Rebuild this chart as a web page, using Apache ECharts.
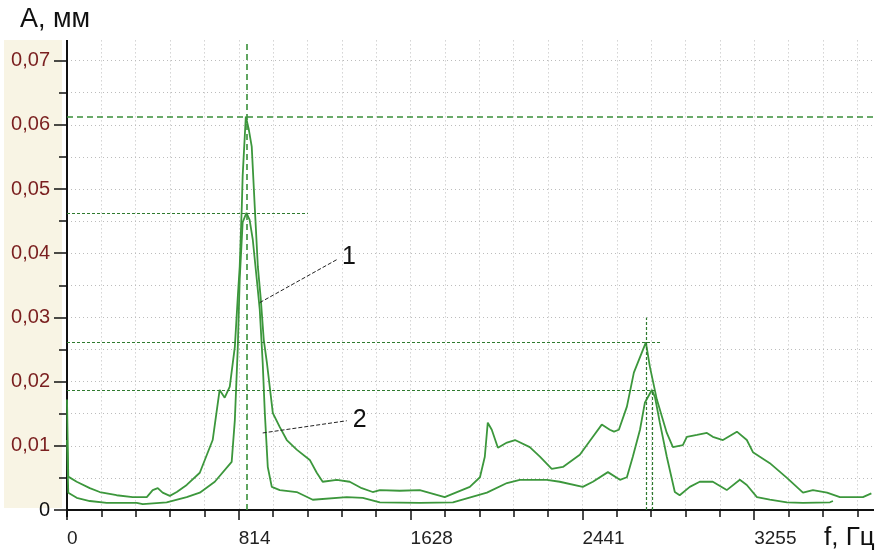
<!DOCTYPE html>
<html>
<head>
<meta charset="utf-8">
<title>A, мм / f, Гц</title>
<script src="https://cdn.jsdelivr.net/npm/echarts@6.0.0/dist/echarts.min.js"></script>
<style>
  html, body { margin: 0; padding: 0; background: #fff; }
  #chart { width: 882px; height: 550px; }
</style>
</head>
<body>
<div id="chart"></div>
<script type="text/javascript">
// curve 1 (upper spectrum)
var freq1 = [0, 6, 46, 108, 155, 235, 311, 378, 406, 430, 453, 487, 520, 567, 629, 690, 723, 747, 771, 795,
  809, 818, 828, 832, 847, 861, 875, 890, 904, 918, 932, 947, 975, 1008, 1041, 1088, 1150, 1183, 1211, 1278,
  1339, 1396, 1448, 1482, 1576, 1671, 1789, 1908, 1956, 1979, 1993, 2012, 2041, 2084, 2122, 2192, 2240, 2296,
  2349, 2429, 2491, 2533, 2571, 2591, 2614, 2652, 2685, 2742, 2761, 2794, 2841, 2870, 2917, 2936, 2984, 3031,
  3059, 3107, 3173, 3220, 3249, 3329, 3410, 3486, 3533, 3600, 3661, 3770, 3810];
var amp1 = [0.0172, 0.0052, 0.0044, 0.0034, 0.0028, 0.0023, 0.0020, 0.0020, 0.0031, 0.0034, 0.0027, 0.0022, 0.0028, 0.0039, 0.0058, 0.0109, 0.0187, 0.0175, 0.0192, 0.0254,
  0.0332, 0.0379, 0.0473, 0.0520, 0.0613, 0.0593, 0.0566, 0.0468, 0.0379, 0.0328, 0.0265, 0.0229, 0.0151, 0.0129, 0.0109, 0.0094, 0.0078, 0.0058, 0.0044, 0.0047,
  0.0044, 0.0034, 0.0028, 0.0031, 0.0030, 0.0031, 0.0020, 0.0036, 0.0051, 0.0083, 0.0136, 0.0125, 0.0097, 0.0105, 0.0109, 0.0098, 0.0083, 0.0064,
  0.0067, 0.0086, 0.0114, 0.0133, 0.0125, 0.0122, 0.0125, 0.0161, 0.0214, 0.0261, 0.0223, 0.0172, 0.0120, 0.0098, 0.0101, 0.0114, 0.0117, 0.0120,
  0.0114, 0.0109, 0.0122, 0.0109, 0.0090, 0.0073, 0.0050, 0.0027, 0.0031, 0.0027, 0.0020, 0.0020, 0.0026];

// curve 2 (lower spectrum)
var freq2 = [0, 6, 46, 108, 188, 330, 359, 472, 567, 629, 700, 780, 795, 809, 818, 832, 850, 865, 880, 899,
  913, 927, 937, 951, 970, 1008, 1088, 1164, 1325, 1401, 1482, 1671, 1828, 1989, 2084, 2145, 2273, 2334, 2443, 2491,
  2562, 2619, 2652, 2680, 2714, 2737, 2770, 2785, 2808, 2841, 2879, 2902, 2950, 2997, 3059, 3125, 3187, 3220, 3268,
  3329, 3410, 3486, 3614, 3628];
var amp2 = [0.0109, 0.0027, 0.0019, 0.0014, 0.0011, 0.0011, 0.0009, 0.0012, 0.0020, 0.0027, 0.0044, 0.0075, 0.0140, 0.0254, 0.0359, 0.0448, 0.0463, 0.0452, 0.0421, 0.0359,
  0.0312, 0.0229, 0.0151, 0.0067, 0.0036, 0.0031, 0.0028, 0.0016, 0.0020, 0.0019, 0.0012, 0.0011, 0.0012, 0.0027, 0.0042, 0.0047, 0.0047, 0.0044, 0.0036, 0.0044,
  0.0059, 0.0047, 0.0051, 0.0083, 0.0125, 0.0167, 0.0187, 0.0176, 0.0136, 0.0083, 0.0028, 0.0023, 0.0036, 0.0044, 0.0044, 0.0031, 0.0047, 0.0039, 0.0020,
  0.0016, 0.0012, 0.0011, 0.0012, 0.0014];

// peak markers: [freq, amp] of each peak
var peak1Main = [850, 0.0613];
var peak2Main = [850, 0.0463];
var peak1Hi = [2742, 0.0261];
var peak2Hi = [2770, 0.0187];

// leader lines for the "1" / "2" callouts: [from], [to]
var leader1 = [[913, 0.0323], [1278, 0.0390]];
var leader2 = [[927, 0.0120], [1325, 0.0139]];

var xStep = 813.75;      // labelled ticks: 814, 1628, 2441, 3255
var xMinor = 162.75;     // small ticks, 5 per step
var yStep = 0.01;
var yMinor = 0.005;
var xMax = 4068.75;
var yMax = 0.08;

function zip(a, b) {
  var out = [];
  for (var i = 0; i < a.length; i++) out.push([a[i], b[i]]);
  return out;
}

var green = '#3c973c';
var refBold = { color: '#3a8f3a', type: [6, 4], width: 1.6 };
var refFine = { color: '#2f7a2f', type: [3, 2], width: 1.2 };
var gridDots = { color: '#bcbcbc', type: [1, 3], width: 1 };
var tickStyle = { color: '#111', width: 1.5 };
var labelFont = "'Liberation Sans', Arial, sans-serif";

var chart = echarts.init(document.getElementById('chart'));
var option = {
  animation: false,
  backgroundColor: '#fff',
  grid: { left: 67, right: -44, top: -3.6, bottom: 40, containLabel: false, outerBoundsMode: 'none' },
  xAxis: [
    {   // minor ticks + dotted grid
      type: 'value', position: 'bottom', offset: 6,
      min: 0, max: xMax, interval: xMinor,
      axisLine: { lineStyle: { color: '#111', width: 2 } },
      axisTick: { length: 7, lineStyle: tickStyle },
      splitLine: { show: true, lineStyle: gridDots },
      axisLabel: { show: false }
    },
    {   // major ticks + labels
      type: 'value', position: 'bottom', offset: 6,
      min: 0, max: xMax, interval: xStep,
      axisLine: { show: false },
      axisTick: { length: 10, lineStyle: tickStyle },
      splitLine: { show: false },
      axisLabel: {
        align: 'left',
        margin: 13,
        fontSize: 19,
        fontFamily: labelFont,
        color: '#222',
        showMaxLabel: false,
        formatter: function (v) { return String(Math.round(v)); }
      }
    }
  ],
  yAxis: [
    {
      type: 'value', position: 'left',
      min: 0, max: yMax, interval: yMinor,
      axisLine: { show: true, lineStyle: { color: '#111', width: 2 } },
      axisTick: { show: true, length: 8, lineStyle: tickStyle },
      splitLine: { show: true, lineStyle: gridDots },
      axisLabel: { show: false }
    },
    {
      type: 'value', position: 'left',
      min: 0, max: yMax, interval: yStep,
      axisLine: { show: false },
      axisTick: { show: true, length: 13, lineStyle: tickStyle },
      splitLine: { show: false },
      axisLabel: {
        margin: 17,
        fontSize: 20,
        fontFamily: labelFont,
        color: function (v) { return Number(v) === 0 ? '#111' : '#7a1f1f'; },
        formatter: function (v) {
          if (v > 0.075) return '';
          if (v === 0) return '0';
          return v.toFixed(2).replace('.', ',');
        }
      }
    }
  ],
  series: [
    {
      name: '1',
      type: 'line',
      xAxisIndex: 0,
      yAxisIndex: 0,
      showSymbol: false,
      symbol: 'none',
      lineStyle: { color: green, width: 1.8 },
      data: zip(freq1, amp1),
      markLine: {
        silent: true,
        symbol: ['none', 'none'],
        label: { show: false },
        data: [
          [{ coord: [0, peak1Main[1]], lineStyle: refBold }, { coord: [xMax, peak1Main[1]] }],
          [{ coord: [peak1Main[0], 0], lineStyle: refBold }, { coord: [peak1Main[0], 0.0733] }],
          [{ coord: [0, peak1Hi[1]], lineStyle: refFine }, { coord: [2818, peak1Hi[1]] }],
          [{ coord: [peak1Hi[0], 0], lineStyle: refFine }, { coord: [peak1Hi[0], 0.030] }],
          [{ coord: leader1[0], lineStyle: { color: '#222', type: [4, 2], width: 1 } },
           { coord: leader1[1], label: { show: true, position: 'end', distance: 6, formatter: '1', fontSize: 25, color: '#111', fontFamily: labelFont } }]
        ]
      }
    },
    {
      name: '2',
      type: 'line',
      xAxisIndex: 0,
      yAxisIndex: 0,
      showSymbol: false,
      symbol: 'none',
      lineStyle: { color: green, width: 1.8 },
      data: zip(freq2, amp2),
      markLine: {
        silent: true,
        symbol: ['none', 'none'],
        label: { show: false },
        data: [
          [{ coord: [0, peak2Main[1]], lineStyle: refFine }, { coord: [1141, peak2Main[1]] }],
          [{ coord: [0, peak2Hi[1]], lineStyle: refFine }, { coord: [2794, peak2Hi[1]] }],
          [{ coord: [peak2Hi[0], 0], lineStyle: refFine }, { coord: [peak2Hi[0], peak2Hi[1]] }],
          [{ coord: leader2[0], lineStyle: { color: '#222', type: [4, 2], width: 1 } },
           { coord: leader2[1], label: { show: true, position: 'end', distance: 6, formatter: '2', fontSize: 25, color: '#111', fontFamily: labelFont } }]
        ]
      }
    }
  ],
  graphic: [
    // beige strip behind the y labels
    { type: 'rect', z: -10, shape: { x: 4, y: 40, width: 58, height: 468 }, style: { fill: '#f8f4e4' } },
    // trim the grid to the visible frame
    { type: 'rect', z: 100, shape: { x: 0, y: -10, width: 882, height: 50 }, style: { fill: '#fff' } },
    { type: 'rect', z: 100, shape: { x: 874, y: 0, width: 20, height: 522 }, style: { fill: '#fff' } },
    { type: 'line', z: 101, shape: { x1: 67, y1: 509, x2: 67, y2: 517 }, style: { stroke: '#111', lineWidth: 2 } },
    { type: 'text', z: 110, left: 20, top: 6, style: { text: 'A, мм', fontSize: 27, fill: '#111', fontFamily: labelFont } },
    { type: 'text', z: 110, left: 824, top: 525, style: { text: 'f, Гц', fontSize: 26, fill: '#111', fontFamily: labelFont } }
  ]
};
chart.setOption(option);
</script>
</body>
</html>
